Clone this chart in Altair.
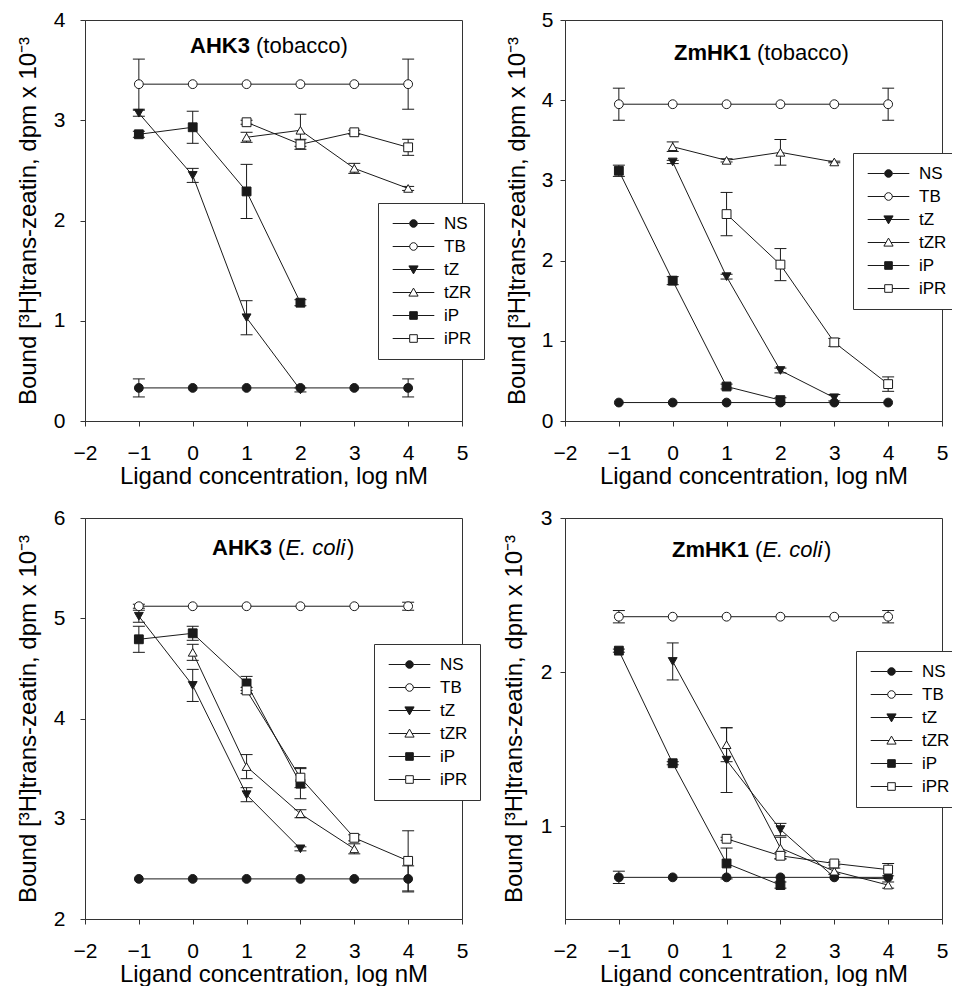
import altair as alt
import pandas as pd

# ---------------- data (bound [3H]trans-zeatin, dpm x 10^-3) ----------------
X_LOG_NM = [-1, 0, 1, 2, 3, 4]
SERIES = ["NS", "TB", "tZ", "tZR", "iP", "iPR"]

PANEL_GENE = ["AHK3", "ZmHK1", "AHK3", "ZmHK1"]
PANEL_HOST = ["tobacco", "tobacco", "E. coli", "E. coli"]
Y_MIN = [0, 0, 2, 0.4]
Y_MAX = [4, 5, 6, 3]
Y_TICKS = [[0, 1, 2, 3, 4], [0, 1, 2, 3, 4, 5], [2, 3, 4, 5, 6], [1, 2, 3]]
X_TICKS = [-2, -1, 0, 1, 2, 3, 4, 5]

# AHK3 (tobacco)
P1_NS = [0.33, 0.33, 0.33, 0.33, 0.33, 0.33]
P1_NS_ERR = [0.09, 0, 0, 0, 0, 0.09]
P1_TB = [3.36, 3.36, 3.36, 3.36, 3.36, 3.36]
P1_TB_ERR = [0.25, 0, 0, 0, 0, 0.25]
P1_TZ = [3.07, 2.45, 1.03, 0.31, None, None]
P1_TZ_ERR = [0.03, 0.07, 0.17, 0.02, 0, 0]
P1_TZR = [None, None, 2.83, 2.90, 2.52, 2.32]
P1_TZR_ERR = [0, 0, 0.05, 0.16, 0.05, 0.02]
P1_IP = [2.86, 2.93, 2.29, 1.18, None, None]
P1_IP_ERR = [0.03, 0.16, 0.27, 0.03, 0, 0]
P1_IPR = [None, None, 2.98, 2.76, 2.88, 2.73]
P1_IPR_ERR = [0, 0, 0.02, 0.05, 0.02, 0.08]

# ZmHK1 (tobacco)
P2_NS = [0.23, 0.23, 0.23, 0.23, 0.23, 0.23]
P2_NS_ERR = [0, 0, 0, 0, 0, 0]
P2_TB = [3.95, 3.95, 3.95, 3.95, 3.95, 3.95]
P2_TB_ERR = [0.2, 0, 0, 0, 0, 0.2]
P2_TZ = [None, 3.23, 1.80, 0.63, 0.29, None]
P2_TZ_ERR = [0, 0.02, 0.03, 0.03, 0.04, 0]
P2_TZR = [None, 3.42, 3.25, 3.35, 3.23, None]
P2_TZR_ERR = [0, 0.06, 0.02, 0.16, 0.01, 0]
P2_IP = [3.12, 1.75, 0.43, 0.26, None, None]
P2_IP_ERR = [0.07, 0.05, 0.03, 0.03, 0, 0]
P2_IPR = [None, None, 2.58, 1.95, 0.98, 0.46]
P2_IPR_ERR = [0, 0, 0.27, 0.2, 0.05, 0.09]

# AHK3 (E. coli)
P3_NS = [2.40, 2.40, 2.40, 2.40, 2.40, 2.40]
P3_NS_ERR = [0, 0, 0, 0, 0, 0.13]
P3_TB = [5.12, 5.12, 5.12, 5.12, 5.12, 5.12]
P3_TB_ERR = [0.02, 0, 0, 0, 0, 0.04]
P3_TZ = [5.02, 4.33, 3.24, 2.70, None, None]
P3_TZ_ERR = [0.06, 0.16, 0.07, 0.02, 0, 0]
P3_TZR = [None, 4.66, 3.52, 3.05, 2.70, None]
P3_TZR_ERR = [0, 0.08, 0.12, 0.04, 0.05, 0]
P3_IP = [4.79, 4.85, 4.35, 3.35, None, None]
P3_IP_ERR = [0.13, 0.07, 0.07, 0.15, 0, 0]
P3_IPR = [None, None, 4.28, 3.41, 2.81, 2.58]
P3_IPR_ERR = [0, 0, 0.03, 0.10, 0.03, 0.30]

# ZmHK1 (E. coli)
P4_NS = [0.67, 0.67, 0.67, 0.67, 0.67, 0.67]
P4_NS_ERR = [0.04, 0, 0, 0, 0, 0]
P4_TB = [2.36, 2.36, 2.36, 2.36, 2.36, 2.36]
P4_TB_ERR = [0.04, 0, 0, 0, 0, 0.04]
P4_TZ = [None, 2.07, 1.43, 0.98, 0.67, 0.66]
P4_TZ_ERR = [0, 0.12, 0.21, 0.04, 0, 0]
P4_TZR = [None, None, 1.53, 0.86, 0.71, 0.62]
P4_TZR_ERR = [0, 0, 0.11, 0.07, 0.02, 0.02]
P4_IP = [2.14, 1.41, 0.76, 0.62, None, None]
P4_IP_ERR = [0.01, 0.01, 0.10, 0.02, 0, 0]
P4_IPR = [None, None, 0.92, 0.81, 0.76, 0.72]
P4_IPR_ERR = [0, 0, 0.01, 0.02, 0.01, 0.04]

PANEL_VALUES = [
    [P1_NS, P1_TB, P1_TZ, P1_TZR, P1_IP, P1_IPR],
    [P2_NS, P2_TB, P2_TZ, P2_TZR, P2_IP, P2_IPR],
    [P3_NS, P3_TB, P3_TZ, P3_TZR, P3_IP, P3_IPR],
    [P4_NS, P4_TB, P4_TZ, P4_TZR, P4_IP, P4_IPR],
]
PANEL_ERRORS = [
    [P1_NS_ERR, P1_TB_ERR, P1_TZ_ERR, P1_TZR_ERR, P1_IP_ERR, P1_IPR_ERR],
    [P2_NS_ERR, P2_TB_ERR, P2_TZ_ERR, P2_TZR_ERR, P2_IP_ERR, P2_IPR_ERR],
    [P3_NS_ERR, P3_TB_ERR, P3_TZ_ERR, P3_TZR_ERR, P3_IP_ERR, P3_IPR_ERR],
    [P4_NS_ERR, P4_TB_ERR, P4_TZ_ERR, P4_TZR_ERR, P4_IP_ERR, P4_IPR_ERR],
]

X_TITLE = "Ligand concentration, log nM"
Y_TITLE = "Bound [\u00b3H]trans-zeatin, dpm x 10\u207b\u00b3"

# ---------------- styling ----------------
FONT = "Liberation Sans"
INK = "#1a1a1a"
FRAME = "#333333"
W, H = 377, 401
SERIES_FILL = [INK, "white", INK, "white", INK, "white"]
SERIES_SHAPE = ["circle", "circle", "triangle-down", "triangle-up", "square", "square"]

# legend symbols: marker with a line segment through it ("-o-")
LEG_PATHS = [
    "M-5.2,0H-0.95M0.95,0H5.2M-0.95,0A0.95,0.95,0,1,1,0.95,0A0.95,0.95,0,1,1,-0.95,0Z",
    "M-5.2,0H-0.95M0.95,0H5.2M-0.95,0A0.95,0.95,0,1,1,0.95,0A0.95,0.95,0,1,1,-0.95,0Z",
    "M-5.2,0H5.2M-1.15,-0.9L1.15,-0.9L0,1.1Z",
    "M-5.2,0H-0.63M0.63,0H5.2M0,-1.1L1.15,0.9L-1.15,0.9Z",
    "M-5.2,0H-0.95M0.95,0H5.2M-0.95,-0.95H0.95V0.95H-0.95Z",
    "M-5.2,0H-0.95M0.95,0H5.2M-0.95,-0.95H0.95V0.95H-0.95Z",
]

# per-panel layout tweaks
LEGEND_XY = [(293, 183), (288, 133), (289, 126), (291, 133)]
TITLE_SPLIT = [165, 186, 187, 184]
TITLE_Y = [33, 40, 37, 39]
Y_LABEL_PAD = [15, 7, 15, 8]
Y_TITLE_PAD = [13, 12, 13, 14]
TITLE_FS = 22


def make_frame(values, errors):
    rows = []
    for s, ys, es in zip(SERIES, values, errors):
        for x, y, e in zip(X_LOG_NM, ys, es):
            if y is None:
                continue
            rows.append({"x": x, "y": y, "series": s, "key": s,
                         "lo": y - e, "hi": y + e, "err": e})
    return pd.DataFrame(rows)


def panel(i):
    df = make_frame(PANEL_VALUES[i], PANEL_ERRORS[i])
    eb = df[df["err"] > 0]
    caps = pd.concat([eb.assign(cap=eb["lo"]), eb.assign(cap=eb["hi"])])

    xs = alt.Scale(domain=[-2, 5], nice=False, zero=False)
    ys = alt.Scale(domain=[Y_MIN[i], Y_MAX[i]], nice=False, zero=False)
    xaxis = alt.Axis(values=X_TICKS, format="d", title=X_TITLE, labelFlush=False,
                     labelOverlap=False, labelPadding=16, titlePadding=1)
    yaxis = alt.Axis(values=Y_TICKS[i], format="d", title=Y_TITLE, labelFlush=False,
                     labelOverlap=False, labelPadding=Y_LABEL_PAD[i],
                     titlePadding=Y_TITLE_PAD[i])

    def X(f="x"):
        return alt.X(f + ":Q", scale=xs, axis=xaxis)

    def Y(f):
        return alt.Y(f + ":Q", scale=ys, axis=yaxis)

    rules = alt.Chart(eb).mark_rule(color=INK, strokeWidth=1).encode(
        x=X(), y=Y("lo"), y2="hi:Q")
    ticks = alt.Chart(caps).mark_tick(color=INK, orient="horizontal", size=12,
                                      thickness=1, opacity=1).encode(x=X(), y=Y("cap"))
    lines = alt.Chart(df).mark_line(color=INK, strokeWidth=1).encode(
        x=X(), y=Y("y"), detail="series:N", order="x:Q")

    points = alt.Chart(df).mark_point(filled=True, size=78, stroke=INK, strokeWidth=1,
                                      opacity=1).encode(
        x=X(), y=Y("y"),
        shape=alt.Shape("series:N", scale=alt.Scale(domain=SERIES, range=SERIES_SHAPE),
                        legend=None),
        fill=alt.Fill("series:N", scale=alt.Scale(domain=SERIES, range=SERIES_FILL),
                      legend=None),
    )

    # legend-only layer (no marks drawn) whose symbols are "line + marker"
    leg = alt.Legend(
        title=None, orient="none", legendX=LEGEND_XY[i][0], legendY=LEGEND_XY[i][1],
        padding=12, rowPadding=5, strokeColor=FRAME, fillColor="white",
        labelFont=FONT, labelFontSize=17, labelColor="black",
        symbolOffset=15, labelOffset=22, symbolStrokeWidth=1,
        symbolSize=64, symbolOpacity=1,
    )
    legend_layer = alt.Chart(df).transform_filter("datum.x > 100").mark_point(
        filled=False, size=64, stroke=INK, color=INK, strokeWidth=1, opacity=1
    ).encode(
        x=X(), y=Y("y"),
        shape=alt.Shape("key:N", scale=alt.Scale(domain=SERIES, range=LEG_PATHS),
                        legend=leg),
        fill=alt.Fill("key:N", scale=alt.Scale(domain=SERIES, range=SERIES_FILL),
                      legend=leg),
    )

    tdf = pd.DataFrame({"gene": [PANEL_GENE[i]], "host": [PANEL_HOST[i]]})
    split = TITLE_SPLIT[i]
    ty = TITLE_Y[i]
    base = alt.Chart(tdf)
    t_gene = base.mark_text(font=FONT, fontSize=TITLE_FS, color="black",
                            baseline="alphabetic", align="right",
                            fontWeight="bold").encode(
        x=alt.value(split), y=alt.value(ty), text="gene:N")
    layers = [rules, ticks, lines, legend_layer, points, t_gene]
    if PANEL_HOST[i] == "tobacco":
        t_host = base.mark_text(font=FONT, fontSize=TITLE_FS, color="black",
                                baseline="alphabetic", align="left").transform_calculate(
            lab="'(' + datum.host + ')'").encode(
            x=alt.value(split + 6), y=alt.value(ty), text="lab:N")
        layers.append(t_host)
    else:
        t_open = base.mark_text(font=FONT, fontSize=TITLE_FS, color="black",
                                baseline="alphabetic", align="left").transform_calculate(
            lab="'('").encode(x=alt.value(split + 6), y=alt.value(ty), text="lab:N")
        t_it = base.mark_text(font=FONT, fontSize=TITLE_FS, color="black",
                              baseline="alphabetic", align="left",
                              fontStyle="italic").encode(
            x=alt.value(split + 13.4), y=alt.value(ty), text="host:N")
        t_close = base.mark_text(font=FONT, fontSize=TITLE_FS, color="black",
                                 baseline="alphabetic", align="left").transform_calculate(
            lab="')'").encode(x=alt.value(split + 75), y=alt.value(ty), text="lab:N")
        layers += [t_open, t_it, t_close]

    return alt.layer(*layers).resolve_scale(
        shape="independent", fill="independent"
    ).properties(width=W, height=H)


panels = [panel(i) for i in range(4)]

chart = alt.concat(
    *panels, columns=2, spacing=alt.RowColnumber(row=97, column=103), bounds="flush"
).resolve_scale(
    x="independent", y="independent", shape="independent", fill="independent"
).resolve_legend(
    shape="independent", fill="independent"
).properties(
    padding={"left": 7, "top": 0, "right": -11, "bottom": -1}, background="white"
).configure_view(
    stroke=FRAME, strokeWidth=1
).configure_axis(
    labelFont=FONT, labelFontSize=21, labelColor="black",
    titleFont=FONT, titleFontSize=24, titleFontWeight="normal", titleColor="black",
    domainColor=FRAME, tickColor=FRAME, tickSize=5, tickWidth=1, grid=False,
)

chart.save("out.html", embed_options={"renderer": "svg", "actions": False})
